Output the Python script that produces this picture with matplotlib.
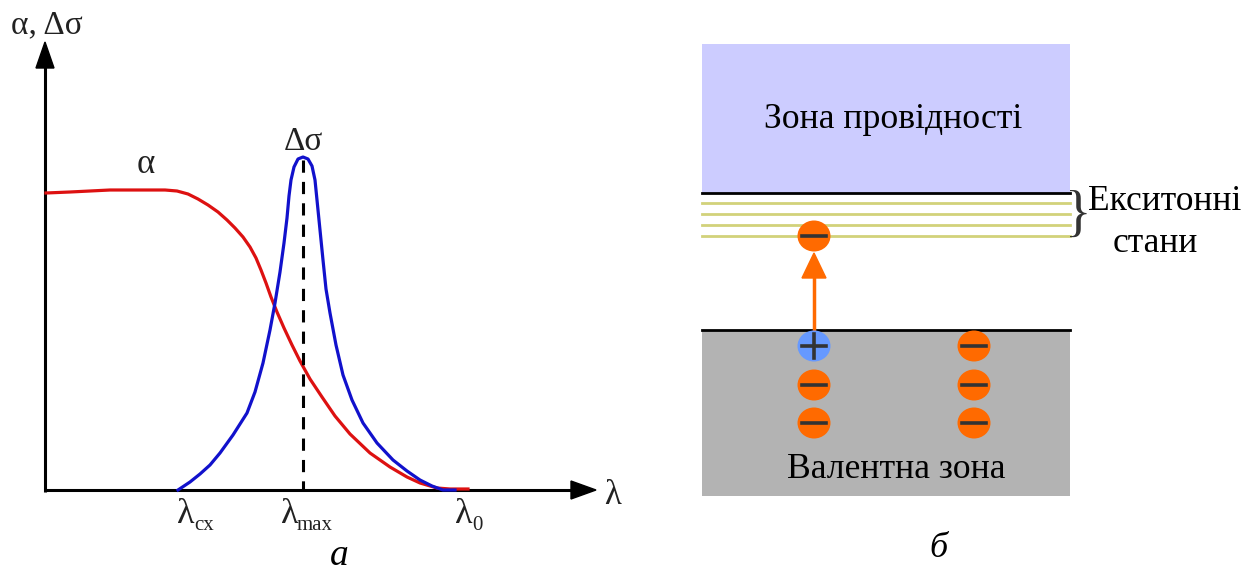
import matplotlib
matplotlib.use('Agg')
import matplotlib.pyplot as plt
from matplotlib.patches import Rectangle, Ellipse

# Крива поглинання alpha (піксельні координати зображення)
alpha_x = [46, 70, 90, 110, 130, 150, 165, 177, 188, 198, 208, 218, 227, 235, 243, 250,
           256, 261, 266, 271, 277, 284, 292, 300, 310, 322, 335, 350, 370, 390, 407, 420,
           437, 450, 468]
alpha_y = [193, 192, 191, 190, 190, 190, 190, 191, 194, 199, 205, 212, 220, 228, 237, 247,
           258, 270, 283, 297, 312, 328, 345, 361, 379, 397, 416, 434, 453, 467, 477, 483,
           488, 489, 489]

# Крива фотопровідності delta sigma
sigma_x = [178, 190, 200, 210, 220, 233, 247, 255, 263, 270, 275, 280, 284, 287, 289, 291,
           294, 298, 303, 308, 312, 315, 317, 320, 323, 326, 330, 336, 343, 352, 363, 377,
           393, 407, 420, 432, 443, 455]
sigma_y = [490, 482, 474, 465, 453, 435, 413, 392, 363, 330, 303, 272, 243, 218, 196, 180,
           167, 159, 157, 159, 166, 180, 200, 230, 260, 289, 313, 345, 375, 400, 423, 443,
           460, 471, 480, 486, 490, 490]

# Підписи на осі λ: індекс і права межа символу λ
x_subscripts = ['cx', 'max', '0']
x_label_pos = [194, 297, 472]

# Частинки: (x, y, знак)
particles = [(814, 236, '-'), (814, 346, '+'), (814, 385, '-'), (814, 423, '-'),
             (974, 346, '-'), (974, 385, '-'), (974, 423, '-')]
exciton_levels = [203, 214, 225, 236]

plt.rcParams['font.family'] = ['Liberation Serif', 'DejaVu Serif']

fig = plt.figure(figsize=(12.57, 5.77), dpi=100)
ax = fig.add_axes([0, 0, 1, 1])
ax.set_xlim(0, 1257)
ax.set_ylim(577, 0)
ax.axis('off')

# --- панель а ---
ax.plot([45, 45], [491.5, 66], color='black', lw=2.2, solid_capstyle='butt')
ax.plot([44, 575], [490, 490], color='black', lw=2.2, solid_capstyle='butt')
ax.fill([45, 36, 54], [42, 68, 68], color='black')
ax.fill([596, 571, 571], [490, 481, 499], color='black')

ax.plot(alpha_x, alpha_y, color='#dd1111', lw=2.3)
ax.plot(sigma_x, sigma_y, color='#1111cc', lw=2.3)
ax.plot([303, 303], [160, 490], color='black', lw=2.2, ls=(0, (4, 3)))

ax.text(11, 33, 'α, Δσ', fontsize=24, va='baseline', ha='left', color='#222222')
ax.text(613, 504, 'λ', fontsize=25, va='baseline', ha='center', color='#222222')
ax.text(146, 173, 'α', fontsize=25, va='baseline', ha='center', color='#222222')
ax.text(303, 150, 'Δσ', fontsize=24, va='baseline', ha='center', color='#222222')
for sub, xp in zip(x_subscripts, x_label_pos):
    ax.text(xp + 1, 523, 'λ', fontsize=26, va='baseline', ha='right', color='#222222')
    ax.text(xp, 530, sub, fontsize=15, va='baseline', ha='left', color='#222222')
ax.text(339, 565, 'а', fontsize=27, style='italic', va='baseline', ha='center')

# --- панель б ---
ax.add_patch(Rectangle((702, 44), 368, 149, color='#ccccff', lw=0))
ax.add_patch(Rectangle((702, 330), 368, 166, color='#b3b3b3', lw=0))
ax.plot([702, 1070], [193, 193], color='black', lw=2)
ax.plot([702, 1070], [330, 330], color='black', lw=2)
for yl in exciton_levels:
    ax.plot([702, 1070], [yl, yl], color='#d2d27a', lw=2)

ax.text(893, 128, 'Зона провідності', fontsize=25.7, va='baseline', ha='center')
ax.text(896, 478, 'Валентна зона', fontsize=25.7, va='baseline', ha='center')
ax.text(1078, 217, '}', fontsize=40, va='center', ha='center', color='#333333')
ax.text(1088, 210, 'Екситонні', fontsize=25.5, va='baseline', ha='left')
ax.text(1155, 252, 'стани', fontsize=25.5, va='baseline', ha='center')
ax.text(938, 557, 'б', fontsize=26, style='italic', va='baseline', ha='center')

# стрілка переходу
ax.plot([814, 814], [330, 272], color='#ff6a00', lw=2.5)
ax.fill([814, 802, 826], [253, 278, 278], color='#ff6a00')

for xp, yp, s in particles:
    col = '#6699ff' if s == '+' else '#ff6a00'
    ax.add_patch(Ellipse((xp, yp), 33, 31, color=col, lw=0, zorder=3))
    ax.plot([xp - 12, xp + 12], [yp, yp], color='#333333', lw=2.6, zorder=4)
    if s == '+':
        ax.plot([xp, xp], [yp - 12, yp + 12], color='#333333', lw=2.6, zorder=4)

fig.savefig('out.png', dpi=100)
